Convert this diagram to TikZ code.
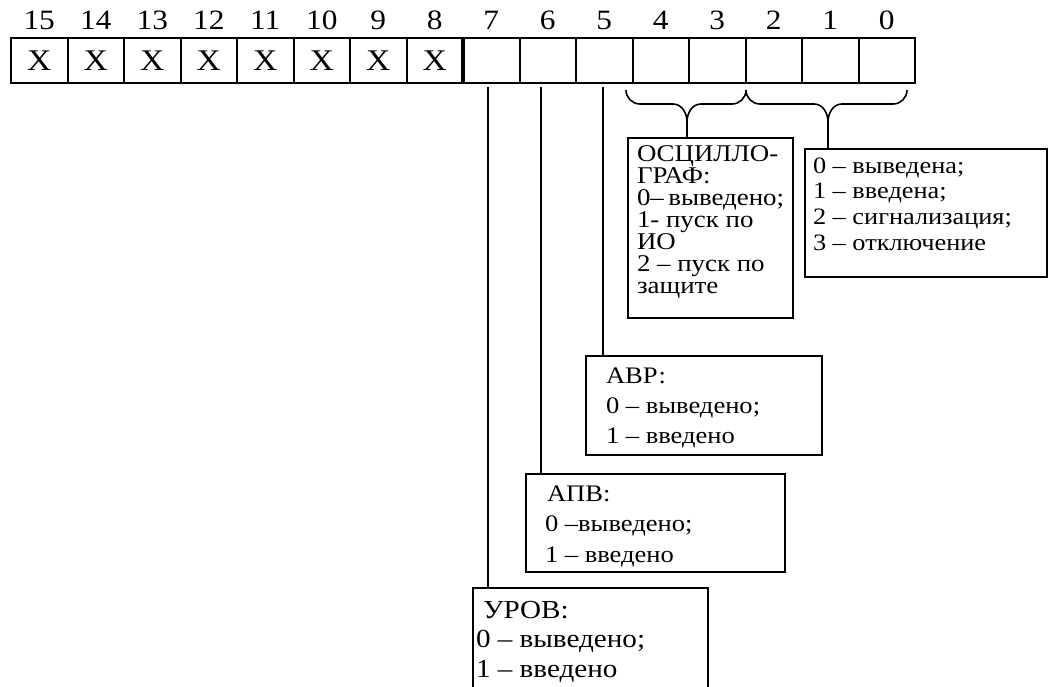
\documentclass[tikz,border=0pt]{standalone}
\usepackage{fontspec}
\setmainfont{Liberation Serif}[FakeStretch=1.12]
\newcommand\boxline[1]{\hbox to\hsize{#1\hfil}}
\begin{document}
\begin{tikzpicture}[x=1pt,y=-1pt,
  cell/.style={draw,line width=2pt,minimum width=56.5pt,minimum height=45pt,inner sep=0pt,outer sep=0pt,font=\fontsize{30}{32}\selectfont},
  bitnum/.style={anchor=base,inner sep=0pt,font=\fontsize{28}{30}\selectfont},
  infobox/.style={draw,line width=1.6pt,anchor=north west,inner ysep=0pt,outer sep=0pt},
  conn/.style={line width=1.6pt},
  brace/.style={line width=1.6pt,line join=round}]
\useasboundingbox (0,0) rectangle (1053,686);
\clip (0,0) rectangle (1053,686);
% register cells
\foreach \b in {0,...,15}{
  \pgfmathsetmacro{\cx}{11+28.25+(15-\b)*56.5}
  \ifnum\b>7
    \node[cell] (c\b) at (\cx,60.5) {X};
  \else
    \node[cell] (c\b) at (\cx,60.5) {};
  \fi
  \node[bitnum] (n\b) at (\cx,29.5) {\b};
}
\draw[line width=4pt] (c8.north east) -- (c8.south east);
% info boxes
\node[infobox,inner xsep=9pt] (osc) at (628,138)
  {\parbox[c][180pt][t]{147pt}{\fontsize{24}{22}\selectfont
   \boxline{\rule{0pt}{23pt}ОСЦИЛЛО-}\boxline{ГРАФ:}\boxline{0– выведено;}\boxline{1- пуск по}\boxline{ИО}\boxline{2 – пуск по}\boxline{защите}}};
\node[infobox,inner xsep=8pt] (rel) at (805,149)
  {\parbox[c][128pt][t]{226pt}{\fontsize{23.5}{25.7}\selectfont
   \boxline{\rule{0pt}{24pt}0 – выведена;}\boxline{1 – введена;}\boxline{2 – сигнализация;}\boxline{3 – отключение}}};
\node[infobox,inner xsep=20pt] (avr) at (586,356)
  {\parbox[c][99pt][t]{196pt}{\fontsize{23.7}{30}\selectfont
   \boxline{\rule{0pt}{27pt}АВР:}\boxline{0 – выведено;}\boxline{1 – введено}}};
\node[infobox,inner xsep=19pt] (apv) at (526,474)
  {\parbox[c][98pt][t]{221pt}{\fontsize{23.7}{30.5}\selectfont
   \boxline{\rule{0pt}{27pt}\hspace{2pt}АПВ:}\boxline{0 –выведено;}\boxline{1 – введено}}};
\node[infobox,inner xsep=3pt] (urov) at (473,588)
  {\parbox[c][140pt][t]{229pt}{\fontsize{26}{29.5}\selectfont
   \boxline{\rule{0pt}{30pt}\hspace{7pt}УРОВ:}\boxline{0 – выведено;}\boxline{1 – введено}}};
% vertical connectors
\coordinate (t7) at (488,87);
\coordinate (t6) at (541,87);
\coordinate (t5) at (603,87);
\draw[conn] (t7) -- (t7 |- urov.north);
\draw[conn] (t6) -- (t6 |- apv.north);
\draw[conn] (t5) -- (t5 |- avr.north);
% braces
\coordinate (b1) at (687,122);
\coordinate (b2) at (828,122);
\draw[brace] (626,90) to[out=-90,in=180] (640,104) -- (673,104) to[out=0,in=90] (b1)
  to[out=90,in=180] (701,104) -- (732,104) to[out=0,in=-90] (746,90);
\draw[brace] (746,90) to[out=-90,in=180] (760,104) -- (814,104) to[out=0,in=90] (b2)
  to[out=90,in=180] (842,104) -- (893,104) to[out=0,in=-90] (907,90);
\draw[conn] (b1) -- (b1 |- osc.north);
\draw[conn] (b2) -- (b2 |- rel.north);
\end{tikzpicture}
\end{document}
